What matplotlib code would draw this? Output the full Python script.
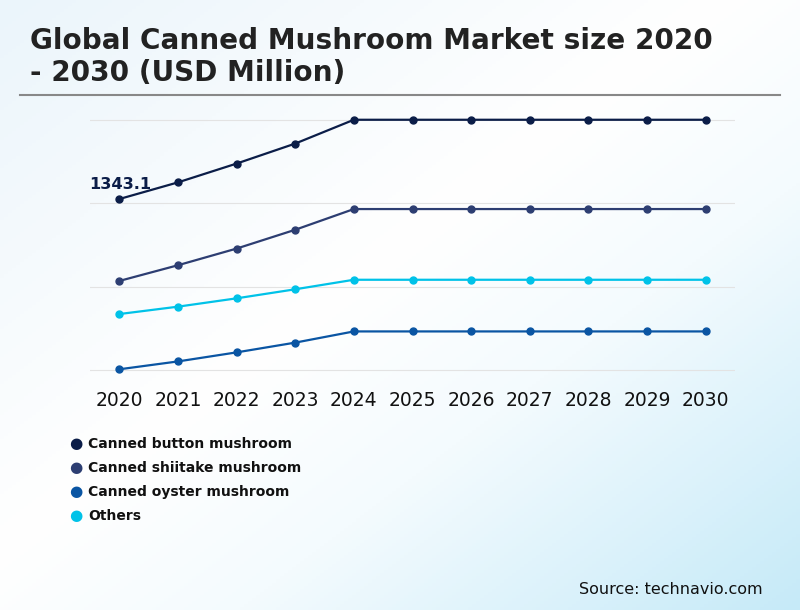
import matplotlib
matplotlib.use('Agg')
import matplotlib.pyplot as plt
import numpy as np
from matplotlib.colors import LinearSegmentedColormap

years = [2020, 2021, 2022, 2023, 2024, 2025, 2026, 2027, 2028, 2029, 2030]
button = [1343.1, 1413, 1492, 1576, 1676, 1676, 1676, 1676, 1676, 1676, 1676]
shiitake = [999, 1065, 1135, 1214, 1301, 1301, 1301, 1301, 1301, 1301, 1301]
oyster = [628, 661, 699, 740, 787, 787, 787, 787, 787, 787, 787]
others = [860, 891, 926, 964, 1004, 1004, 1004, 1004, 1004, 1004, 1004]
grid_vals = [625, 975, 1325, 1675]

names = ['Canned button mushroom', 'Canned shiitake mushroom',
         'Canned oyster mushroom', 'Others']
colors = ['#0b1d48', '#2d3e72', '#0a55a3', '#00c2e8']

fig = plt.figure(figsize=(8, 6.1), dpi=100)

# background gradient
bg = fig.add_axes([0, 0, 1, 1], zorder=-10)
xx, yy = np.meshgrid(np.linspace(0, 1, 200), np.linspace(0, 1, 200))
t = (xx + yy) / 2.0
cmap = LinearSegmentedColormap.from_list('bg', [(0, '#ebf5fb'), (0.45, '#ffffff'),
                                                (0.65, '#f4fbfe'), (1, '#c6eaf8')])
bg.imshow(t, cmap=cmap, aspect='auto', extent=[0, 1, 0, 1], origin='upper')
bg.axis('off')

fig.text(30/800, 1 - 49/610, 'Global Canned Mushroom Market size 2020',
         fontsize=20.1, fontweight='bold', color='#222222', va='baseline')
fig.text(30/800, 1 - 81/610, '- 2030 (USD Million)',
         fontsize=20.1, fontweight='bold', color='#222222', va='baseline')
fig.add_artist(plt.Line2D([20/800, 780/800], [1 - 95/610, 1 - 95/610],
                          color='#888888', lw=1.5))

ax = fig.add_axes([90/800, 1 - 380/610, 645/800, 270/610])
ax.patch.set_alpha(0)
x = np.arange(len(years))
series = [button, shiitake, oyster, others]
for s, c in zip(series, colors):
    ax.plot(x, s, color=c, lw=1.6, marker='o', markersize=5, zorder=3)

ax.set_xlim(-0.5, len(years) - 0.5)
ax.set_ylim(583, 1717)
ax.set_yticks(grid_vals)
ax.set_yticklabels([])
ax.tick_params(axis='y', length=0)
ax.grid(axis='y', color='#e3e3e3', lw=0.8)
ax.set_axisbelow(True)
ax.set_xticks(x)
ax.set_xticklabels([str(y) for y in years], fontsize=13.5, color='#111111')
ax.tick_params(axis='x', length=0, pad=8)
for sp in ax.spines.values():
    sp.set_visible(False)

ax.annotate('1343.1', (0, button[0]), xytext=(-22, 7.5), textcoords='offset points',
            fontsize=11.7, fontweight='bold', color=colors[0])

# legend
for i, (n, c) in enumerate(zip(names, colors)):
    yy_ = 1 - (444 + 24 * i) / 610
    fig.text(76/800, yy_, '\u25cf', color=c, fontsize=11, va='center', ha='center')
    fig.text(88/800, yy_, n, fontsize=10, fontweight='bold', color='#111111', va='center')

fig.text(763/800, 1 - 589/610, 'Source: technavio.com', fontsize=11.5,
         color='#111111', ha='right', va='center')

fig.savefig('out.png', dpi=100)
